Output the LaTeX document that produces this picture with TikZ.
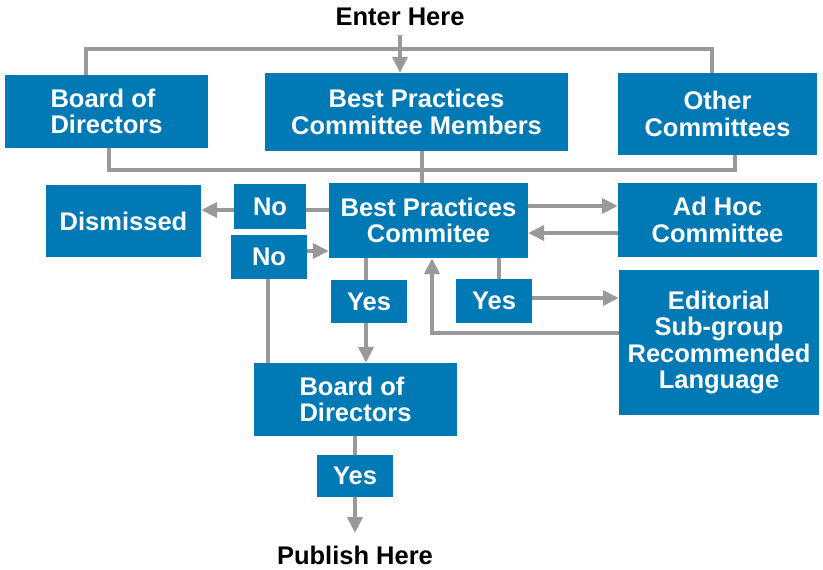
\documentclass[tikz,border=0pt]{standalone}
\usepackage{fontspec}
\setmainfont{Liberation Sans}
\usetikzlibrary{arrows.meta}
\definecolor{boxblue}{RGB}{0,121,180}
\definecolor{linegray}{RGB}{153,153,153}
\tikzset{
  box/.style={fill=boxblue, text=white, inner sep=0pt, align=center,
    font=\fontsize{25.5}{26.5}\selectfont\bfseries},
  lbox/.style={box, align=left},
  conn/.style={draw=linegray, line width=3.8pt},
  arr/.style={conn, -{Triangle[length=16pt,width=15pt]}},
  plain/.style={inner sep=0pt, font=\fontsize{25.5}{26.5}\selectfont\bfseries}
}
\begin{document}
\begin{tikzpicture}[x=1pt,y=-1pt]
\useasboundingbox (0,0) rectangle (823,570);
% nodes
\node[plain] (enter) at (400,17) {Enter Here};
\node[plain] (publish) at (355,555) {Publish Here};
\node[lbox, minimum width=203pt, minimum height=73pt] (bod1) at (106.5,111.5) {Board of\\Directors};
\node[box, minimum width=303pt, minimum height=78pt] (bpcm) at (416.5,112) {Best Practices\\Committee Members};
\node[box, minimum width=199pt, minimum height=82pt] (other) at (717.5,114) {Other\\Committees};
\node[box, minimum width=155pt, minimum height=72pt] (dism) at (123.5,221) {Dismissed};
\node[box, minimum width=72pt, minimum height=45pt] (no1) at (270,206.5) {No};
\node[box, minimum width=76pt, minimum height=44pt] (no2) at (269,257) {No};
\node[box, minimum width=199pt, minimum height=75pt] (bpc) at (428.5,220.5) {Best Practices\\Commitee};
\node[box, minimum width=199pt, minimum height=74pt] (adhoc) at (717.5,220) {Ad Hoc\\Committee};
\node[box, minimum width=76pt, minimum height=43pt] (yes1) at (369,301.5) {Yes};
\node[box, minimum width=76pt, minimum height=44pt] (yes2) at (494,301) {Yes};
\node[box, minimum width=200pt, minimum height=145pt] (edit) at (719,342.5) {Editorial\\Sub-group\\Recommended\\Language};
\node[lbox, minimum width=203pt, minimum height=73pt] (bod2) at (355.5,399.5) {Board of\\Directors};
\node[box, minimum width=76pt, minimum height=42pt] (yes3) at (355,476) {Yes};
% helper coordinates
\coordinate (tl) at (86,49);
\coordinate (tr) at (712,49);
\coordinate (bl) at (109,170);
\coordinate (br) at (735,170);
\coordinate (xm) at (422,0);
\coordinate (yno) at (0,210);
\coordinate (yno2) at (0,251);
\coordinate (xy1) at (366,0);
\coordinate (xy2) at (499,0);
\coordinate (xno) at (268,0);
\coordinate (yah1) at (0,206);
\coordinate (yah2) at (0,233);
\coordinate (yed) at (0,298);
\coordinate (ret) at (432,333);
\coordinate (xy3) at (355,0);
\coordinate (ein) at (400,35);
\coordinate (pend) at (355,533);
% top bus
\draw[conn] (bod1.north -| tl) -- (tl) -- (tr) -- (other.north -| tr);
\draw[arr] (ein) -- (bpcm.north -| ein);
% lower bus
\draw[conn] (bod1.south -| bl) -- (bl) -- (br) -- (other.south -| br);
\draw[conn] (bpcm.south -| xm) -- (bpc.north -| xm);
% No paths
\draw[conn] (bpc.west |- yno) -- (no1.east |- yno);
\draw[arr] (no1.west |- yno) -- (dism.east |- yno);
\draw[arr] (no2.east |- yno2) -- (bpc.west |- yno2);
\draw[conn] (no2.south -| xno) -- (bod2.north -| xno);
% Yes paths
\draw[conn] (bpc.south -| xy1) -- (yes1.north -| xy1);
\draw[arr] (yes1.south -| xy1) -- (bod2.north -| xy1);
\draw[conn] (bpc.south -| xy2) -- (yes2.north -| xy2);
\draw[arr] (yes2.east |- yed) -- (edit.west |- yed);
\draw[arr] (edit.west |- ret) -- (ret) -- (bpc.south -| ret);
% Ad hoc
\draw[arr] (bpc.east |- yah1) -- (adhoc.west |- yah1);
\draw[arr] (adhoc.west |- yah2) -- (bpc.east |- yah2);
% bottom
\draw[conn] (bod2.south -| xy3) -- (yes3.north -| xy3);
\draw[arr] (yes3.south -| xy3) -- (pend);
\end{tikzpicture}
\end{document}
